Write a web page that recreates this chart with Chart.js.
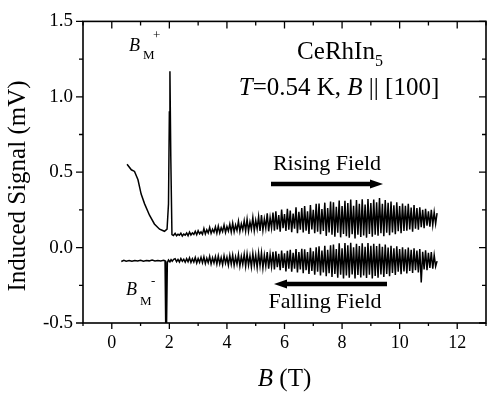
<!DOCTYPE html>
<html>
<head>
<meta charset="utf-8">
<script src="https://cdn.jsdelivr.net/npm/chart.js"></script>
<style>
  html, body { margin: 0; padding: 0; background: #fff; overflow: hidden; }
  #wrap { width: 487px; height: 394px; overflow: hidden; }
</style>
</head>
<body>
<div id="wrap"><canvas id="c" width="495" height="394"></canvas></div>
<script>
// axis ticks
const xTickVals = [-1, 0, 1, 2, 3, 4, 5, 6, 7, 8, 9, 10, 11, 12, 13];
const xLabelVals = [0, 2, 4, 6, 8, 10, 12];
const yTickVals = [-0.5, -0.25, 0, 0.25, 0.5, 0.75, 1, 1.25, 1.5];
const yLabelVals = [-0.5, 0, 0.5, 1, 1.5];

// rising field, low-field part (B in T, signal in mV)
const riseLowB = [0.53, 0.68, 0.79, 0.91, 1.02, 1.14, 1.31, 1.48, 1.66, 1.83, 1.92, 1.97, 2.00, 2.02, 2.05, 2.09, 2.14];
const riseLowV = [0.553, 0.516, 0.505, 0.45, 0.355, 0.29, 0.215, 0.157, 0.122, 0.108, 0.122, 0.29, 0.90, 1.17, 0.60, 0.086, 0.08];

// falling field, low-field part
const fallLowB = [0.33, 0.42, 0.5, 0.6, 0.7, 0.8, 0.9, 1.0, 1.1, 1.2, 1.3, 1.4, 1.5, 1.6, 1.7, 1.8, 1.85, 1.87, 1.88, 1.9, 1.93, 1.97, 2.02, 2.06, 2.1, 2.15];
const fallLowV = [-0.092, -0.084, -0.090, -0.086, -0.091, -0.085, -0.089, -0.084, -0.090, -0.086, -0.088, -0.083, -0.089, -0.085, -0.088, -0.084, -0.088, -0.10, -0.55, -0.55, -0.10, -0.082, -0.095, -0.080, -0.090, -0.078];

// oscillation region, shared field values
const sweepB = [
  2.20, 2.25, 2.30, 2.35, 2.40, 2.45, 2.50, 2.55, 2.60, 2.65,
  2.70, 2.75, 2.80, 2.85, 2.90, 2.95, 3.00, 3.05, 3.10, 3.15,
  3.20, 3.25, 3.30, 3.35, 3.40, 3.45, 3.50, 3.55, 3.60, 3.65,
  3.70, 3.75, 3.80, 3.85, 3.90, 3.95, 4.00, 4.05, 4.10, 4.15,
  4.20, 4.25, 4.30, 4.35, 4.40, 4.45, 4.50, 4.55, 4.60, 4.65,
  4.70, 4.75, 4.80, 4.85, 4.90, 4.95, 5.00, 5.05, 5.10, 5.15,
  5.20, 5.25, 5.30, 5.35, 5.40, 5.45, 5.50, 5.55, 5.60, 5.65,
  5.70, 5.75, 5.80, 5.85, 5.90, 5.95, 6.00, 6.05, 6.10, 6.15,
  6.20, 6.25, 6.30, 6.35, 6.40, 6.45, 6.50, 6.55, 6.60, 6.65,
  6.70, 6.75, 6.80, 6.85, 6.90, 6.95, 7.00, 7.05, 7.10, 7.15,
  7.20, 7.25, 7.30, 7.35, 7.40, 7.45, 7.50, 7.55, 7.60, 7.65,
  7.70, 7.75, 7.80, 7.85, 7.90, 7.95, 8.00, 8.05, 8.10, 8.15,
  8.20, 8.25, 8.30, 8.35, 8.40, 8.45, 8.50, 8.55, 8.60, 8.65,
  8.70, 8.75, 8.80, 8.85, 8.90, 8.95, 9.00, 9.05, 9.10, 9.15,
  9.20, 9.25, 9.30, 9.35, 9.40, 9.45, 9.50, 9.55, 9.60, 9.65,
  9.70, 9.75, 9.80, 9.85, 9.90, 9.95, 10.00, 10.05, 10.10, 10.15,
  10.20, 10.25, 10.30, 10.35, 10.40, 10.45, 10.50, 10.55, 10.60, 10.65,
  10.70, 10.75, 10.80, 10.85, 10.90, 10.95, 11.00, 11.05, 11.10, 11.15,
  11.20, 11.25, 11.30
];

const riseOsc = [
  0.094, 0.078, 0.088, 0.082, 0.096, 0.077, 0.090, 0.083, 0.097, 0.079,
  0.103, 0.084, 0.098, 0.088, 0.108, 0.085, 0.112, 0.092, 0.104, 0.088,
  0.126, 0.090, 0.118, 0.097, 0.134, 0.094, 0.122, 0.102, 0.138, 0.096,
  0.142, 0.098, 0.132, 0.106, 0.150, 0.100, 0.140, 0.110, 0.155, 0.103,
  0.162, 0.104, 0.150, 0.114, 0.175, 0.108, 0.158, 0.118, 0.178, 0.110,
  0.188, 0.108, 0.170, 0.122, 0.200, 0.112, 0.180, 0.125, 0.205, 0.110,
  0.215, 0.115, 0.190, 0.128, 0.228, 0.108, 0.200, 0.130, 0.232, 0.112,
  0.240, 0.120, 0.215, 0.105, 0.252, 0.128, 0.222, 0.110, 0.258, 0.118,
  0.245, 0.102, 0.225, 0.125, 0.268, 0.095, 0.238, 0.118, 0.262, 0.100,
  0.275, 0.112, 0.240, 0.090, 0.282, 0.120, 0.250, 0.095, 0.290, 0.105,
  0.292, 0.088, 0.255, 0.110, 0.298, 0.078, 0.262, 0.100, 0.305, 0.085,
  0.300, 0.072, 0.270, 0.098, 0.312, 0.068, 0.275, 0.090, 0.310, 0.075,
  0.296, 0.065, 0.318, 0.088, 0.278, 0.060, 0.315, 0.085, 0.290, 0.070,
  0.320, 0.080, 0.285, 0.066, 0.322, 0.090, 0.295, 0.072, 0.318, 0.085,
  0.300, 0.078, 0.328, 0.095, 0.290, 0.075, 0.315, 0.098, 0.298, 0.082,
  0.305, 0.100, 0.280, 0.088, 0.300, 0.108, 0.275, 0.095, 0.292, 0.110,
  0.278, 0.112, 0.290, 0.120, 0.265, 0.105, 0.282, 0.125, 0.262, 0.118,
  0.268, 0.135, 0.250, 0.128, 0.258, 0.145, 0.240, 0.138, 0.250, 0.150,
  0.235, 0.158, 0.228
];

const fallOsc = [
  -0.074, -0.093, -0.078, -0.095, -0.072, -0.091, -0.077, -0.097, -0.073, -0.094,
  -0.068, -0.099, -0.074, -0.096, -0.066, -0.102, -0.072, -0.098, -0.065, -0.101,
  -0.062, -0.106, -0.070, -0.100, -0.058, -0.108, -0.068, -0.102, -0.060, -0.110,
  -0.056, -0.108, -0.066, -0.114, -0.054, -0.104, -0.064, -0.116, -0.052, -0.110,
  -0.050, -0.118, -0.062, -0.110, -0.046, -0.122, -0.058, -0.112, -0.044, -0.124,
  -0.042, -0.116, -0.055, -0.128, -0.038, -0.118, -0.050, -0.132, -0.036, -0.120,
  -0.034, -0.135, -0.050, -0.122, -0.030, -0.140, -0.045, -0.125, -0.028, -0.145,
  -0.025, -0.130, -0.042, -0.150, -0.020, -0.135, -0.038, -0.158, -0.022, -0.140,
  -0.015, -0.160, -0.035, -0.140, -0.010, -0.165, -0.030, -0.145, -0.008, -0.170,
  -0.012, -0.150, -0.030, -0.175, -0.002, -0.155, -0.025, -0.180, 0.002, -0.160,
  0.008, -0.185, -0.020, -0.165, 0.012, -0.190, -0.015, -0.170, 0.015, -0.195,
  0.020, -0.175, -0.010, -0.200, 0.028, -0.180, -0.005, -0.205, 0.030, -0.185,
  0.015, -0.200, 0.032, -0.178, 0.002, -0.205, 0.025, -0.182, 0.010, -0.198,
  0.028, -0.185, 0.005, -0.202, 0.030, -0.180, 0.012, -0.205, 0.025, -0.188,
  0.010, -0.200, 0.025, -0.178, 0.005, -0.195, 0.020, -0.175, 0.000, -0.190,
  0.012, -0.168, -0.005, -0.182, 0.008, -0.160, -0.010, -0.176, 0.002, -0.158,
  -0.012, -0.172, 0.000, -0.155, -0.015, -0.168, -0.005, -0.150, -0.020, -0.165,
  -0.010, -0.232, -0.028, -0.145, -0.018, -0.150, -0.035, -0.135, -0.030, -0.140,
  -0.050, -0.125, -0.090
];

const SERIF = '"Liberation Serif", "Times New Roman", serif';

const toPoints = (xs, ys) => xs.map((b, i) => ({ x: b, y: ys[i] }));
const risingData = toPoints(riseLowB, riseLowV).concat(toPoints(sweepB, riseOsc));
const fallingData = toPoints(fallLowB, fallLowV).concat(toPoints(sweepB, fallOsc));

// text made of runs with different fonts (italic B, subscripts ...)
function drawRuns(ctx, runs, x, y, align) {
  let w = 0;
  runs.forEach(r => { ctx.font = r.font; w += ctx.measureText(r.text).width; });
  let cx = align === 'center' ? x - w / 2 : x;
  runs.forEach(r => {
    ctx.font = r.font;
    ctx.fillText(r.text, cx, y + (r.dy || 0));
    cx += ctx.measureText(r.text).width;
  });
}

function drawArrow(ctx, tail, tip, y) {
  const dir = tip > tail ? 1 : -1;
  ctx.beginPath();
  ctx.lineWidth = 4.5;
  ctx.moveTo(tail, y);
  ctx.lineTo(tip - dir * 10, y);
  ctx.stroke();
  ctx.beginPath();
  ctx.moveTo(tip, y);
  ctx.lineTo(tip - dir * 13, y - 4.5);
  ctx.lineTo(tip - dir * 13, y + 4.5);
  ctx.closePath();
  ctx.fill();
}

const framePlugin = {
  id: 'frameTicks',
  afterDraw(chart) {
    const { ctx, chartArea: a, scales: { x, y } } = chart;
    ctx.save();
    ctx.strokeStyle = '#000';
    ctx.fillStyle = '#000';
    ctx.lineWidth = 1.6;
    ctx.strokeRect(a.left, a.top, a.right - a.left, a.bottom - a.top);

    ctx.lineWidth = 1.3;
    ctx.beginPath();
    xTickVals.forEach(v => {
      const px = x.getPixelForValue(v);
      const major = xLabelVals.includes(v);
      ctx.moveTo(px, a.bottom); ctx.lineTo(px, a.bottom + (major ? 6 : 3));
      ctx.moveTo(px, a.top); ctx.lineTo(px, a.top + (major ? 7 : 4));
    });
    yTickVals.forEach(v => {
      const py = y.getPixelForValue(v);
      const major = yLabelVals.includes(v);
      ctx.moveTo(a.left, py); ctx.lineTo(a.left - (major ? 7 : 4), py);
      ctx.moveTo(a.right, py); ctx.lineTo(a.right - (major ? 7 : 4), py);
    });
    ctx.stroke();

    // axis titles
    ctx.textAlign = 'left';
    ctx.textBaseline = 'alphabetic';
    drawRuns(ctx, [
      { text: 'B', font: 'italic 25px ' + SERIF },
      { text: ' (T)', font: '25px ' + SERIF }
    ], (a.left + a.right) / 2, 386, 'center');

    ctx.save();
    ctx.translate(25, 186);
    ctx.rotate(-Math.PI / 2);
    drawRuns(ctx, [{ text: 'Induced Signal (mV)', font: '25px ' + SERIF }], 0, 0, 'center');
    ctx.restore();

    // annotations
    drawRuns(ctx, [
      { text: 'CeRhIn', font: '25px ' + SERIF },
      { text: '5', font: '16px ' + SERIF, dy: 7 }
    ], 340, 59, 'center');
    drawRuns(ctx, [
      { text: 'T', font: 'italic 25px ' + SERIF },
      { text: '=0.54 K, ', font: '25px ' + SERIF },
      { text: 'B', font: 'italic 25px ' + SERIF },
      { text: ' || [100]', font: '25px ' + SERIF }
    ], 339, 95, 'center');

    drawRuns(ctx, [{ text: 'Rising Field', font: '22px ' + SERIF }], 327, 170, 'center');
    drawRuns(ctx, [{ text: 'Falling Field', font: '22px ' + SERIF }], 325, 308, 'center');
    drawArrow(ctx, 271, 383, 184);
    drawArrow(ctx, 387, 274, 284);

    drawRuns(ctx, [{ text: 'B', font: 'italic 18px ' + SERIF }], 129, 51, 'left');
    drawRuns(ctx, [{ text: 'M', font: '13px ' + SERIF }], 143, 59, 'left');
    drawRuns(ctx, [{ text: '+', font: '13px ' + SERIF }], 153, 39, 'left');

    drawRuns(ctx, [{ text: 'B', font: 'italic 18px ' + SERIF }], 126, 295, 'left');
    drawRuns(ctx, [{ text: 'M', font: '13px ' + SERIF }], 140, 305, 'left');
    drawRuns(ctx, [{ text: '-', font: '13px ' + SERIF }], 151, 285, 'left');
    ctx.restore();
  }
};

new Chart(document.getElementById('c'), {
  type: 'scatter',
  data: {
    datasets: [
      { label: 'Rising Field', data: risingData },
      { label: 'Falling Field', data: fallingData }
    ]
  },
  options: {
    responsive: false,
    animation: false,
    devicePixelRatio: 1,
    showLine: true,
    elements: {
      point: { radius: 0, hoverRadius: 0 },
      line: { borderColor: '#000', borderWidth: 1.5, tension: 0 }
    },
    layout: { padding: { left: 0, right: 6, top: 13, bottom: 0 } },
    plugins: { legend: { display: false }, tooltip: { enabled: false } },
    scales: {
      x: {
        type: 'linear',
        min: -1, max: 13,
        grid: { display: false, drawTicks: false },
        border: { display: false },
        afterBuildTicks: s => { s.ticks = xTickVals.map(v => ({ value: v })); },
        afterFit: s => { s.height = 71; },
        ticks: {
          autoSkip: false, maxRotation: 0, padding: 9, color: '#000',
          font: { family: SERIF, size: 18 },
          callback: v => xLabelVals.includes(v) ? String(v) : ''
        }
      },
      y: {
        type: 'linear',
        min: -0.5, max: 1.5,
        grid: { display: false, drawTicks: false },
        border: { display: false },
        afterBuildTicks: s => { s.ticks = yTickVals.map(v => ({ value: v })); },
        afterFit: s => { s.width = 83; },
        ticks: {
          autoSkip: false, padding: 10, color: '#000',
          font: { family: SERIF, size: 19 },
          callback: v => yLabelVals.includes(v) ? v.toFixed(1) : ''
        }
      }
    }
  },
  plugins: [framePlugin]
});
</script>
</body>
</html>
